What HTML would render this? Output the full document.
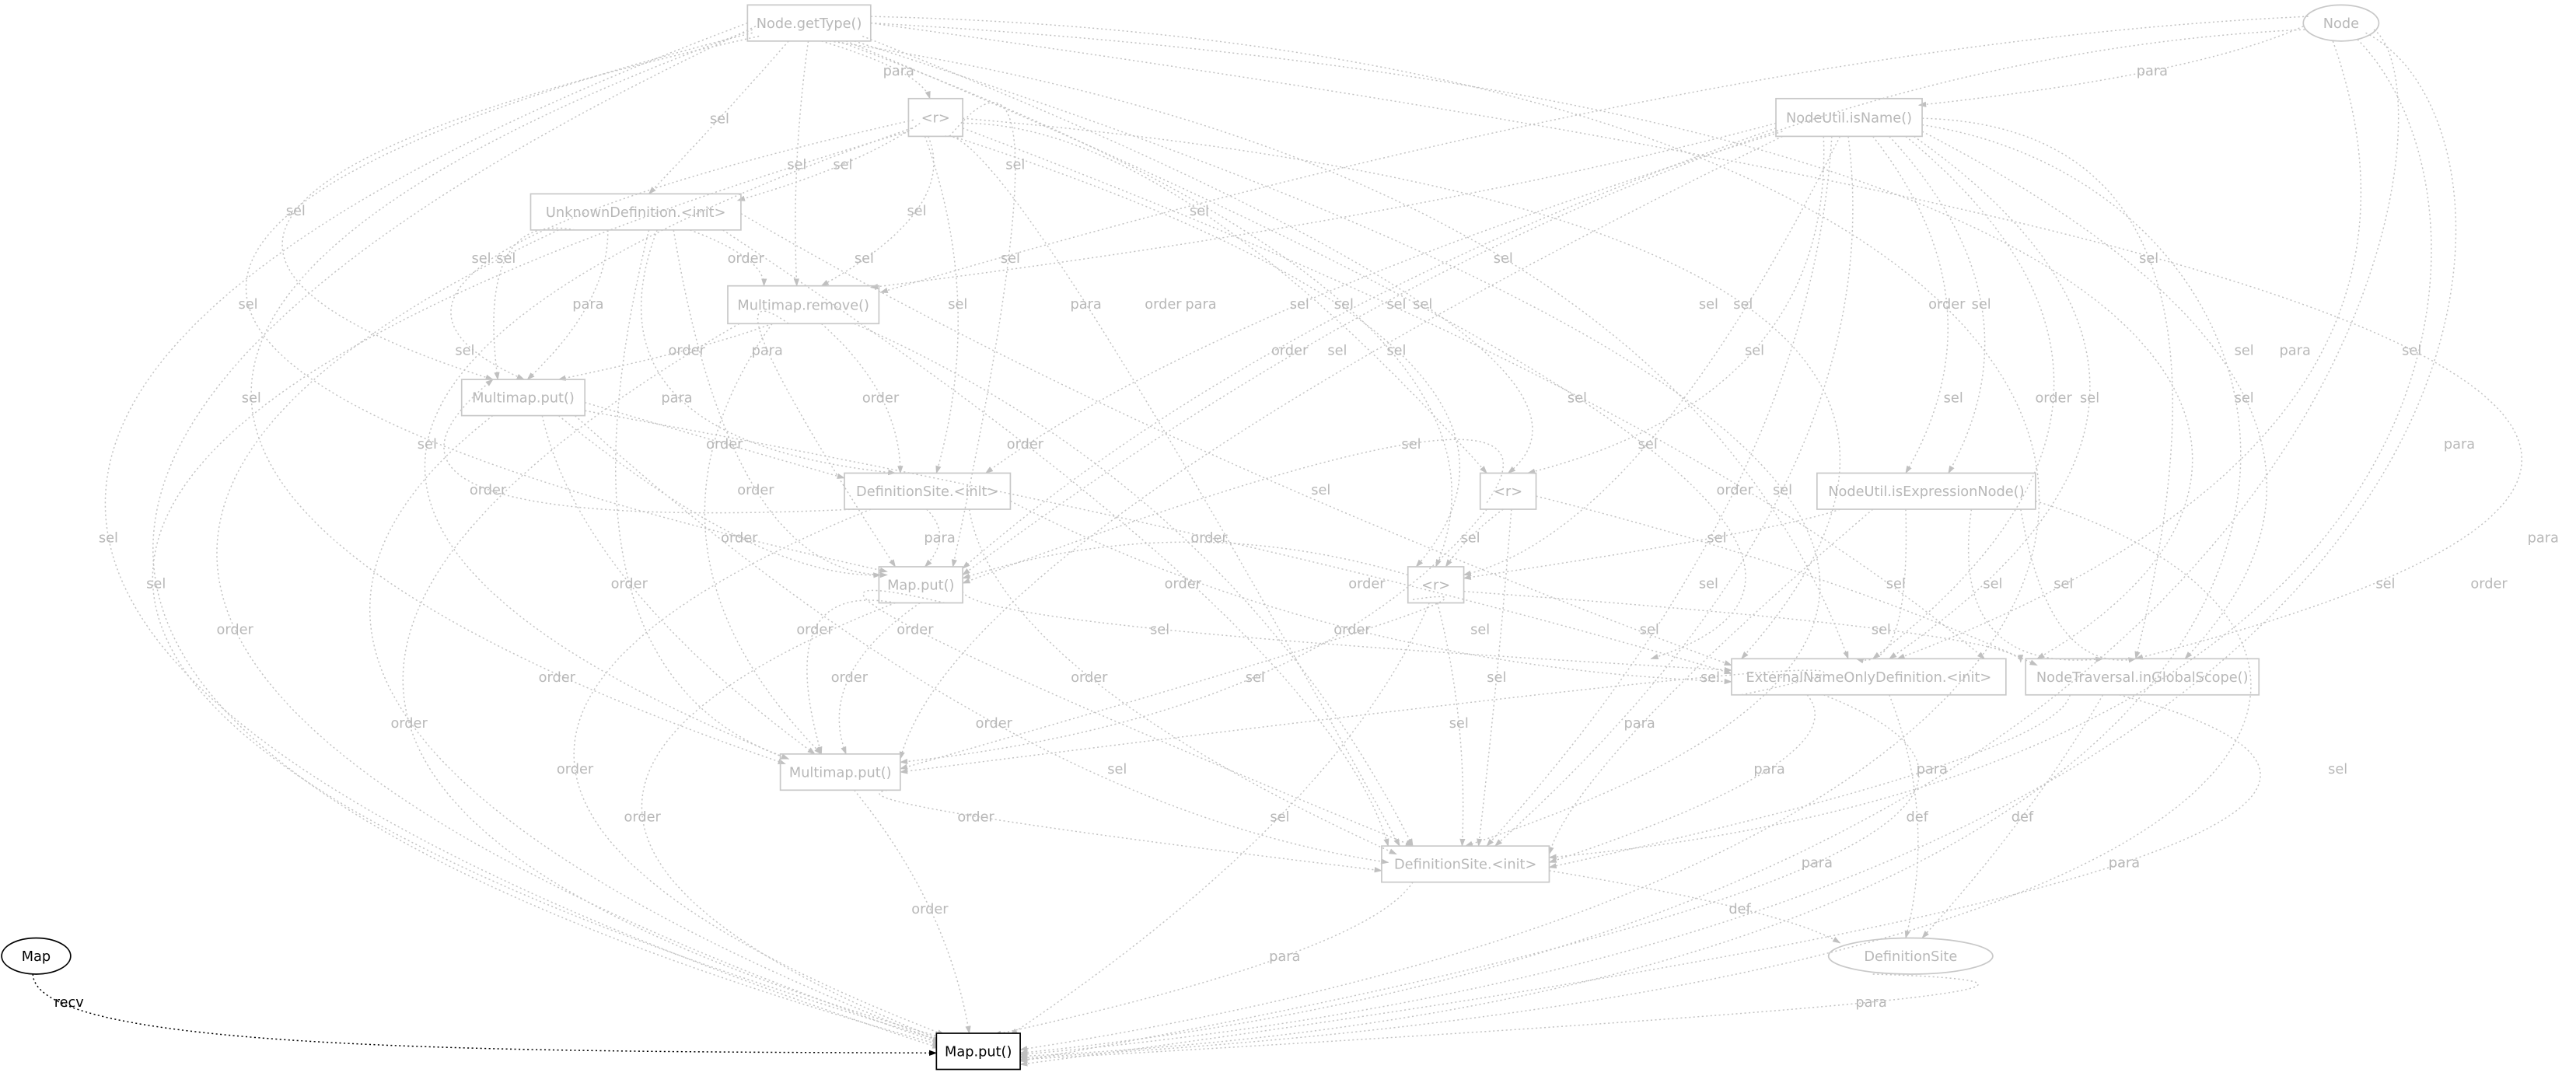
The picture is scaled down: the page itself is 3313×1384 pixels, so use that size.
<!DOCTYPE html>
<html><head><meta charset="utf-8">
<style>
html,body{margin:0;padding:0;background:#fff;}
svg{display:block;}
text{font-family:"DejaVu Sans","Liberation Sans",sans-serif;}
.n{fill:none;stroke:#c8c8c8;stroke-width:0.8;}
.nt{fill:#b8b8b8;font-size:8.4px;text-anchor:middle;}
.l{fill:#b8b8b8;font-size:8.4px;text-anchor:middle;}
</style></head>
<body>
<svg id="g" width="3313" height="1384" viewBox="0 0 1568 655" xmlns="http://www.w3.org/2000/svg">
<defs>
<marker id="a" viewBox="0 0 10 10" refX="9" refY="5" markerWidth="7" markerHeight="7" orient="auto"><path d="M0,1.5 L10,5 L0,8.5 z" fill="#c0c0c0"/></marker>
<marker id="ab" viewBox="0 0 10 10" refX="9" refY="5" markerWidth="7" markerHeight="7" orient="auto"><path d="M0,1.5 L10,5 L0,8.5 z" fill="#000"/></marker>
</defs>
<g id="edges"></g>
<rect class="n" x="455" y="3" width="75" height="22" fill="#fff"/><text class="nt" x="492.5" y="17">Node.getType()</text>
<ellipse class="n" cx="1425" cy="14" rx="23" ry="11" fill="#fff"/><text class="nt" x="1425" y="17">Node</text>
<rect class="n" x="553" y="60" width="33" height="23" fill="#fff"/><text class="nt" x="569.5" y="74.5">&lt;r&gt;</text>
<rect class="n" x="1081" y="60" width="89" height="23" fill="#fff"/><text class="nt" x="1125.5" y="74.5">NodeUtil.isName()</text>
<rect class="n" x="323" y="118" width="128" height="22" fill="#fff"/><text class="nt" x="387" y="132">UnknownDefinition.&lt;init&gt;</text>
<rect class="n" x="443" y="174" width="92" height="23" fill="#fff"/><text class="nt" x="489" y="188.5">Multimap.remove()</text>
<rect class="n" x="281" y="231" width="75" height="22" fill="#fff"/><text class="nt" x="318.5" y="245">Multimap.put()</text>
<rect class="n" x="514" y="288" width="101" height="22" fill="#fff"/><text class="nt" x="564.5" y="302">DefinitionSite.&lt;init&gt;</text>
<rect class="n" x="901" y="288" width="34" height="22" fill="#fff"/><text class="nt" x="918" y="302">&lt;r&gt;</text>
<rect class="n" x="1106" y="288" width="133" height="22" fill="#fff"/><text class="nt" x="1172.5" y="302">NodeUtil.isExpressionNode()</text>
<rect class="n" x="535" y="345" width="51" height="22" fill="#fff"/><text class="nt" x="560.5" y="359">Map.put()</text>
<rect class="n" x="857" y="345" width="34" height="22" fill="#fff"/><text class="nt" x="874" y="359">&lt;r&gt;</text>
<rect class="n" x="1054" y="401" width="167" height="22" fill="#fff"/><text class="nt" x="1137.5" y="415">ExternalNameOnlyDefinition.&lt;init&gt;</text>
<rect class="n" x="1233" y="401" width="142" height="22" fill="#fff"/><text class="nt" x="1304" y="415">NodeTraversal.inGlobalScope()</text>
<rect class="n" x="475" y="459" width="73" height="22" fill="#fff"/><text class="nt" x="511.5" y="473">Multimap.put()</text>
<rect class="n" x="841" y="515" width="102" height="22" fill="#fff"/><text class="nt" x="892" y="529">DefinitionSite.&lt;init&gt;</text>
<ellipse class="n" cx="1163" cy="582" rx="50" ry="11" fill="#fff"/><text class="nt" x="1163" y="585">DefinitionSite</text>
<ellipse cx="22" cy="582" rx="21" ry="11" fill="#fff" stroke="#000" stroke-width="0.8"/><text x="22" y="585" style="font-size:8.4px;text-anchor:middle;fill:#000">Map</text>
<rect x="570" y="629" width="51" height="22" fill="#fff" stroke="#000" stroke-width="0.8"/><text x="595.5" y="643" style="font-size:8.4px;text-anchor:middle;fill:#000">Map.put()</text>
<g>
<text class="l" x="547" y="46">para</text>
<text class="l" x="438" y="75">sel</text>
<text class="l" x="485" y="103">sel</text>
<text class="l" x="513" y="103">sel</text>
<text class="l" x="618" y="103">sel</text>
<text class="l" x="1310" y="46">para</text>
<text class="l" x="180" y="131">sel</text>
<text class="l" x="558" y="131">sel</text>
<text class="l" x="730" y="131">sel</text>
<text class="l" x="293" y="160">sel</text><text class="l" x="308" y="160">sel</text>
<text class="l" x="454" y="160">order</text>
<text class="l" x="526" y="160">sel</text>
<text class="l" x="615" y="160">sel</text>
<text class="l" x="915" y="160">sel</text>
<text class="l" x="1308" y="160">sel</text>
<text class="l" x="151" y="188">sel</text>
<text class="l" x="358" y="188">para</text>
<text class="l" x="583" y="188">sel</text>
<text class="l" x="661" y="188">para</text>
<text class="l" x="708" y="188">order</text><text class="l" x="731" y="188">para</text>
<text class="l" x="791" y="188">sel</text>
<text class="l" x="818" y="188">sel</text>
<text class="l" x="850" y="188">sel</text>
<text class="l" x="866" y="188">sel</text>
<text class="l" x="1040" y="188">sel</text><text class="l" x="1061" y="188">sel</text>
<text class="l" x="1185" y="188">order</text><text class="l" x="1206" y="188">sel</text>
<text class="l" x="283" y="216">sel</text>
<text class="l" x="418" y="216">order</text>
<text class="l" x="467" y="216">para</text>
<text class="l" x="785" y="216">order</text>
<text class="l" x="814" y="216">sel</text>
<text class="l" x="850" y="216">sel</text>
<text class="l" x="1068" y="216">sel</text>
<text class="l" x="1366" y="216">sel</text>
<text class="l" x="1468" y="216">sel</text>
<text class="l" x="1397" y="216">para</text>
<text class="l" x="153" y="245">sel</text>
<text class="l" x="412" y="245">para</text>
<text class="l" x="536" y="245">order</text>
<text class="l" x="624" y="273">order</text>
<text class="l" x="960" y="245">sel</text>
<text class="l" x="1189" y="245">sel</text>
<text class="l" x="1250" y="245">order</text><text class="l" x="1272" y="245">sel</text>
<text class="l" x="1366" y="245">sel</text>
<text class="l" x="260" y="273">sel</text>
<text class="l" x="441" y="273">order</text>
<text class="l" x="859" y="273">sel</text>
<text class="l" x="1003" y="273">sel</text>
<text class="l" x="1497" y="273">para</text>
<text class="l" x="297" y="301">order</text>
<text class="l" x="460" y="301">order</text>
<text class="l" x="804" y="301">sel</text>
<text class="l" x="1056" y="301">order</text><text class="l" x="1085" y="301">sel</text>
<text class="l" x="66" y="330">sel</text>
<text class="l" x="450" y="330">order</text>
<text class="l" x="572" y="330">para</text>
<text class="l" x="736" y="330">order</text>
<text class="l" x="895" y="330">sel</text>
<text class="l" x="1045" y="330">sel</text>
<text class="l" x="1548" y="330">para</text>
<text class="l" x="95" y="358">sel</text>
<text class="l" x="383" y="358">order</text>
<text class="l" x="720" y="358">order</text>
<text class="l" x="832" y="358">order</text>
<text class="l" x="1040" y="358">sel</text>
<text class="l" x="1154" y="358">sel</text>
<text class="l" x="1213" y="358">sel</text><text class="l" x="1256" y="358">sel</text>
<text class="l" x="1452" y="358">sel</text>
<text class="l" x="1515" y="358">order</text>
<text class="l" x="143" y="386">order</text>
<text class="l" x="496" y="386">order</text><text class="l" x="557" y="386">order</text>
<text class="l" x="706" y="386">sel</text>
<text class="l" x="823" y="386">order</text>
<text class="l" x="901" y="386">sel</text>
<text class="l" x="1004" y="386">sel</text>
<text class="l" x="1145" y="386">sel</text>
<text class="l" x="339" y="415">order</text>
<text class="l" x="517" y="415">order</text>
<text class="l" x="663" y="415">order</text>
<text class="l" x="764" y="415">sel</text>
<text class="l" x="911" y="415">sel</text>
<text class="l" x="1041" y="415">sel</text>
<text class="l" x="249" y="443">order</text>
<text class="l" x="605" y="443">order</text>
<text class="l" x="888" y="443">sel</text>
<text class="l" x="998" y="443">para</text>
<text class="l" x="350" y="471">order</text>
<text class="l" x="680" y="471">sel</text>
<text class="l" x="1077" y="471">para</text>
<text class="l" x="1176" y="471">para</text>
<text class="l" x="1423" y="471">sel</text>
<text class="l" x="391" y="500">order</text>
<text class="l" x="594" y="500">order</text>
<text class="l" x="779" y="500">sel</text>
<text class="l" x="1167" y="500">def</text>
<text class="l" x="1231" y="500">def</text>
<text class="l" x="1106" y="528">para</text>
<text class="l" x="1293" y="528">para</text>
<text class="l" x="566" y="556">order</text>
<text class="l" x="1059" y="556">def</text>
<text class="l" x="782" y="585">para</text>
<text class="l" x="1139" y="613">para</text>
<text x="42" y="613" style="font-size:8.4px;text-anchor:middle;fill:#000">recv</text>
</g>
</svg>
<script>
(function(){
var E=[
[500,25,566,60,547,43],[480,25,395,118,438,72],[492,25,485,174,485,100],[462,22,300,231,180,128],
[458,20,540,348,151,185],[458,18,478,465,153,243],[455,14,572,638,66,327],[460,16,572,636,95,355],
[505,25,1125,401,915,157],[525,22,918,288,866,185],[510,25,874,345,818,185],[530,14,1300,401,1468,213],
[520,25,892,515,1085,298],[515,25,1005,401,1000,270],
[1402,16,1168,64,1310,43],[1405,10,536,178,1010,60],[1403,18,586,350,1000,110],[1420,25,1155,401,1397,241],
[560,75,449,122,513,100],[556,73,319,231,300,157],[565,83,500,174,558,128],[555,78,480,462,260,270],
[553,80,575,634,93,355],[563,83,570,288,583,185],[575,83,852,515,661,185],[586,72,1060,401,1061,185],
[586,78,1208,401,960,241],[580,83,862,345,850,213],[586,75,905,288,730,128],[578,83,580,345,618,100],
[1081,75,530,175,830,130],[1085,80,600,288,791,185],[1081,78,586,346,800,200],[1085,83,548,462,700,300],
[1110,83,930,288,1068,213],[1120,83,891,350,1003,270],[1140,83,1160,288,1185,185],[1150,83,1186,288,1206,185],
[1160,83,1140,401,1250,241],[1165,83,1150,401,1272,241],[1170,72,1300,401,1308,157],[1170,80,1330,401,1366,241],
[1115,83,905,515,1056,298],[1125,83,910,515,1085,298],
[420,140,465,174,454,157],[370,140,321,231,358,185],[350,140,303,231,308,157],[400,140,545,288,412,241],
[410,140,540,350,460,298],[395,140,480,462,383,355],[340,140,575,636,143,383],[451,130,1054,405,723,270],
[440,140,845,515,725,355],
[470,197,340,231,418,213],[500,197,548,288,536,241],[480,197,545,345,467,213],[470,197,500,459,430,330],
[520,197,860,515,720,327],[450,197,575,632,249,440],
[356,245,514,291,441,270],[340,253,536,350,450,327],[330,253,496,459,383,355],[350,253,845,525,605,440],
[300,253,572,634,250,440],[356,250,1054,410,735,327],
[564,310,563,345,572,327],[520,310,300,231,297,298],[590,310,850,520,663,412],[615,305,1054,415,823,383],
[530,310,575,630,350,468],
[905,306,586,355,859,270],[915,310,880,345,895,327],[920,310,900,515,911,412],[935,302,1240,405,1100,350],
[905,310,548,464,764,412],
[1120,310,891,352,1045,327],[1160,310,1130,401,1154,383],[1200,310,1280,401,1213,383],[1230,310,1300,401,1256,383],
[1140,310,943,520,1000,440],
[586,360,1054,408,706,383],[560,367,515,459,517,412],[545,367,500,459,496,383],[575,367,860,515,557,383],
[545,367,575,634,391,497],
[860,365,548,468,832,383],[891,360,1230,403,1145,383],[875,367,890,515,888,440],[870,367,615,630,779,497],
[857,350,586,352,720,330],
[1060,423,548,470,1041,412],[1100,423,943,525,1077,468],[1150,423,1160,571,1167,497],[1110,423,621,646,1106,525],
[1260,423,943,528,1176,468],[1280,423,1170,571,1231,497],[1290,423,621,648,1293,525],
[540,481,841,530,594,497],[520,481,590,629,566,553],
[943,530,1120,574,1059,553],[860,537,605,630,782,582],
[1140,593,621,645,1139,610]
];
var C=[
"M1440,20 C1560,80 1560,560 621,642",
"M1435,24 C1530,120 1520,470 943,522",
"M1445,18 C1500,60 1440,560 621,641",
"M1239,305 C1480,380 1450,600 621,644",
"M1170,76 C1460,120 1530,600 621,643",
"M530,10 C1400,30 1520,500 621,639",
"M530,14 C1350,60 1450,280 1240,401"
];
var g=document.getElementById('edges'),ns='http://www.w3.org/2000/svg';
function mk(d,black){
 var p=document.createElementNS(ns,'path');
 p.setAttribute('d',d);
 p.setAttribute('fill','none');
 p.setAttribute('stroke',black?'#000':'#c4c4c4');
 p.setAttribute('stroke-width','0.7');
 p.setAttribute('stroke-dasharray','1,1.6');
 p.setAttribute('marker-end',black?'url(#ab)':'url(#a)');
 g.appendChild(p);
}
E.forEach(function(e){
 var x1=e[0],y1=e[1],x2=e[2],y2=e[3],lx=e[4],ly=e[5];
 var cx=2*lx-(x1+x2)/2, cy=2*ly-(y1+y2)/2;
 mk('M'+x1+','+y1+' Q'+cx+','+cy+' '+x2+','+y2,false);
});
C.forEach(function(d){mk(d,false);});
mk("M20,593 C22,640 300,640 570,641",true);
})();
</script>
</body></html>
